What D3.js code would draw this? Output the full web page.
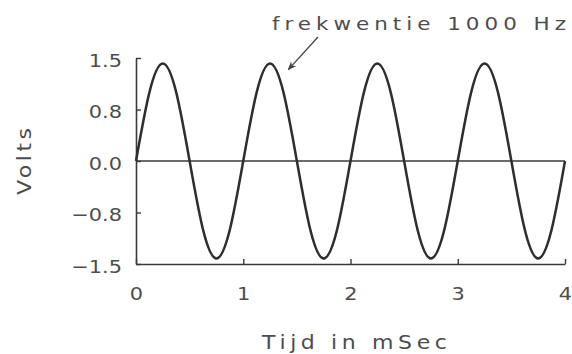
<!DOCTYPE html>
<html>
<head>
<meta charset="utf-8">
<script src="https://cdn.jsdelivr.net/npm/d3@7"></script>
<style>
    body { margin: 0; background: #fff; }
    text { font-family: "DejaVu Sans", sans-serif; fill: #4d4d4d; }
</style>
</head>
<body>
<script>
// samples, every 1/8 ms
var timeMs = [0, 0.125, 0.25, 0.375, 0.5, 0.625, 0.75, 0.875,
    1, 1.125, 1.25, 1.375, 1.5, 1.625, 1.75, 1.875,
    2, 2.125, 2.25, 2.375, 2.5, 2.625, 2.75, 2.875,
    3, 3.125, 3.25, 3.375, 3.5, 3.625, 3.75, 3.875, 4];
var volts = [0, 1.0, 1.42, 1.0, 0, -1.0, -1.42, -1.0,
    0, 1.0, 1.42, 1.0, 0, -1.0, -1.42, -1.0,
    0, 1.0, 1.42, 1.0, 0, -1.0, -1.42, -1.0,
    0, 1.0, 1.42, 1.0, 0, -1.0, -1.42, -1.0, 0];
var yTicks = [-1.5, -0.75, 0, 0.75, 1.5];
var xTicks = [0, 1, 2, 3, 4];
var noteText = "frekwentie 1000 Hz";
var notePoint = [1.42, 1.33];

var tickFont = "18px";
var labelFont = "19px";
var stretch = 1.16; // the scanned lettering is wider than any installed face

function drawChart() {
    var width = 572,
        height = 354;

    var svg = d3.select("body")
        .append("svg")
        .attr("width", width)
        .attr("height", height);

    var x = d3.scaleLinear().domain([0, 4]).range([136, 565]);
    var y = d3.scaleLinear().domain([-1.5, 1.5]).range([264, 58]);

    // y axis, ticks pointing inward
    var yAxis = d3.axisLeft(y)
        .tickValues(yTicks)
        .tickFormat(d3.format(".1f"))
        .tickSizeInner(-5)
        .tickSizeOuter(0)
        .tickPadding(14);
    svg.append("g")
        .attr("transform", "translate(" + x(0) + ",0)")
        .call(yAxis)
        .call(styleAxis)
        .selectAll(".tick text").attr("dy", "0.45em");

    // x axis along the bottom
    var xAxis = d3.axisBottom(x)
        .tickValues(xTicks)
        .tickFormat(d3.format("d"))
        .tickSizeInner(-5)
        .tickSizeOuter(0)
        .tickPadding(23);
    svg.append("g")
        .attr("transform", "translate(0," + y(-1.5) + ")")
        .call(xAxis)
        .call(styleAxis);

    // zero line
    svg.append("line")
        .attr("x1", x(0)).attr("x2", x(4))
        .attr("y1", y(0)).attr("y2", y(0))
        .attr("stroke", "#3a3a3a")
        .attr("stroke-width", 1.6);

    var points = timeMs.map(function (t, i) { return [t, volts[i]]; });
    var line = d3.line()
        .x(function (d) { return x(d[0]); })
        .y(function (d) { return y(d[1]); })
        .curve(d3.curveNatural);
    svg.append("path")
        .datum(points)
        .attr("d", line)
        .attr("fill", "none")
        .attr("stroke", "#2e2e2e")
        .attr("stroke-width", 2.5);

    // labels
    svg.append("text")
        .attr("transform", "translate(31,161.5) rotate(-90) scale(" + stretch + ",1)")
        .attr("text-anchor", "middle")
        .attr("textLength", 67 / stretch)
        .attr("lengthAdjust", "spacing")
        .style("font-size", labelFont)
        .text("Volts");

    svg.append("text")
        .attr("transform", "translate(262,349) scale(" + stretch + ",1)")
        .attr("textLength", 185 / stretch)
        .attr("lengthAdjust", "spacing")
        .style("font-size", labelFont)
        .text("Tijd in mSec");

    // annotation with arrow
    svg.append("defs").append("marker")
        .attr("id", "arrow")
        .attr("viewBox", "0 0 10 10")
        .attr("refX", 9).attr("refY", 5)
        .attr("markerWidth", 7).attr("markerHeight", 7)
        .attr("orient", "auto")
        .append("path")
        .attr("d", "M0,1 L10,5 L0,9 L3,5 Z")
        .attr("fill", "#444");

    svg.append("text")
        .attr("transform", "translate(272,30) scale(" + stretch + ",1)")
        .attr("textLength", 294 / stretch)
        .attr("lengthAdjust", "spacing")
        .style("font-size", "18.5px")
        .text(noteText);

    svg.append("line")
        .attr("x1", 318).attr("y1", 37)
        .attr("x2", x(notePoint[0])).attr("y2", y(notePoint[1]))
        .attr("stroke", "#444")
        .attr("stroke-width", 1.3)
        .attr("marker-end", "url(#arrow)");
}

function styleAxis(g) {
    g.select(".domain").attr("stroke", "#3a3a3a").attr("stroke-width", 1.6);
    g.selectAll(".tick line").attr("stroke", "#3a3a3a").attr("stroke-width", 1.4);
    g.selectAll(".tick text")
        .style("font-family", "DejaVu Sans, sans-serif")
        .style("font-size", tickFont)
        .attr("fill", "#4d4d4d")
        .attr("transform", function () {
            var t = d3.select(this);
            var tx = +t.attr("x") || 0,
                ty = +t.attr("y") || 0;
            t.attr("x", 0).attr("y", 0);
            return "translate(" + tx + "," + ty + ") scale(" + stretch + ",1)";
        });
}

drawChart();
</script>
</body>
</html>
